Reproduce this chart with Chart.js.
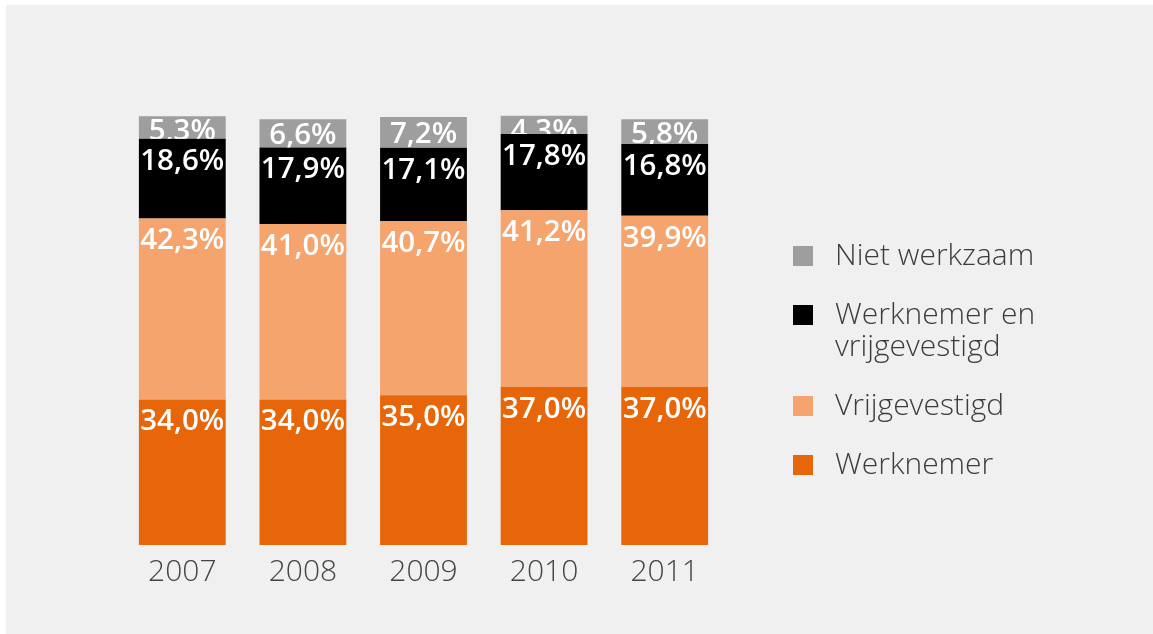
<!DOCTYPE html>
<html>
<head>
<meta charset="utf-8">
<script src="https://cdn.jsdelivr.net/npm/chart.js@4"></script>
<style>
  html, body { margin: 0; padding: 0; background: #fff; }
  #wrap { position: relative; width: 1153px; height: 634px; overflow: hidden; }
  #bg { position: absolute; left: 6px; top: 5px; right: 0; bottom: 0; background: #f0f0f0; }
  #chart { position: absolute; left: 0; top: 0; }
  #legend { position: absolute; left: 793px; top: 238px; display: flex; flex-direction: column; gap: 27px;
            font-family: "Open Sans", sans-serif; font-weight: 300; font-size: 30px; line-height: 32px; color: #3c3c3c; }
  .item { display: flex; align-items: flex-start; }
  .box { width: 20px; height: 20px; margin-top: 8px; margin-right: 22px; flex: none; }
  .txt { width: 220px; }
</style>
</head>
<body>
<div id="wrap">
  <div id="bg"></div>
  <canvas id="chart" width="1153" height="634"></canvas>
  <div id="legend"></div>
</div>
<script>
const years = ['2007', '2008', '2009', '2010', '2011'];
const seriesNames = ['Werknemer', 'Vrijgevestigd', 'Werknemer en vrijgevestigd', 'Niet werkzaam'];
const seriesColors = ['#e8660a', '#f4a46c', '#000000', '#9e9e9e'];
const werknemer = [34.0, 34.0, 35.0, 37.0, 37.0];
const vrijgevestigd = [42.3, 41.0, 40.7, 41.2, 39.9];
const beide = [18.6, 17.9, 17.1, 17.8, 16.8];
const nietWerkzaam = [5.3, 6.6, 7.2, 4.3, 5.8];
const seriesValues = [werknemer, vrijgevestigd, beide, nietWerkzaam];

function fmt(v) {
    return v.toFixed(1).replace('.', ',') + '%';
}

// labels at the top of each segment, clipped to the segment
const barLabels = {
    id: 'barLabels',
    afterDatasetsDraw(chart) {
        const ctx = chart.ctx;
        chart.data.datasets.forEach((ds, i) => {
            chart.getDatasetMeta(i).data.forEach((bar, j) => {
                const p = bar.getProps(['x', 'y', 'base', 'width'], true);
                const top = Math.min(p.y, p.base);
                const h = Math.abs(p.base - p.y);
                const digitH = 21;
                const off = Math.max(3, Math.min(10, (h - digitH) / 2));
                ctx.save();
                ctx.beginPath();
                ctx.rect(p.x - p.width / 2, top, p.width, h);
                ctx.clip();
                ctx.font = '600 29.5px "Open Sans"';
                ctx.fillStyle = '#ffffff';
                ctx.textAlign = 'center';
                ctx.textBaseline = 'alphabetic';
                ctx.fillText(fmt(ds.data[j]), p.x, top + off + digitH);
                ctx.restore();
            });
        });
    }
};

new Chart(document.getElementById('chart').getContext('2d'), {
    type: 'bar',
    data: {
        labels: years,
        datasets: seriesNames.map((name, i) => ({
            label: name,
            data: seriesValues[i],
            backgroundColor: seriesColors[i],
            borderWidth: 0,
            categoryPercentage: 1,
            barPercentage: 0.72
        }))
    },
    options: {
        responsive: false,
        animation: false,
        clip: false,
        layout: { padding: { left: 122, right: 428, top: 117, bottom: 35 } },
        plugins: { legend: { display: false }, tooltip: { enabled: false } },
        scales: {
            x: {
                stacked: true,
                grid: { display: false, drawTicks: false },
                border: { display: false },
                ticks: { color: '#444444', padding: 9, font: { family: 'Open Sans', size: 30, weight: 300 } }
            },
            y: { stacked: true, display: false, min: 0, max: 100 }
        }
    },
    plugins: [barLabels]
});

// legend, top item first
const legend = document.getElementById('legend');
for (let i = seriesNames.length - 1; i >= 0; i--) {
    const item = document.createElement('div');
    item.className = 'item';
    item.innerHTML = `<span class="box" style="background:${seriesColors[i]}"></span><span class="txt">${seriesNames[i]}</span>`;
    legend.appendChild(item);
}
</script>
</body>
</html>
